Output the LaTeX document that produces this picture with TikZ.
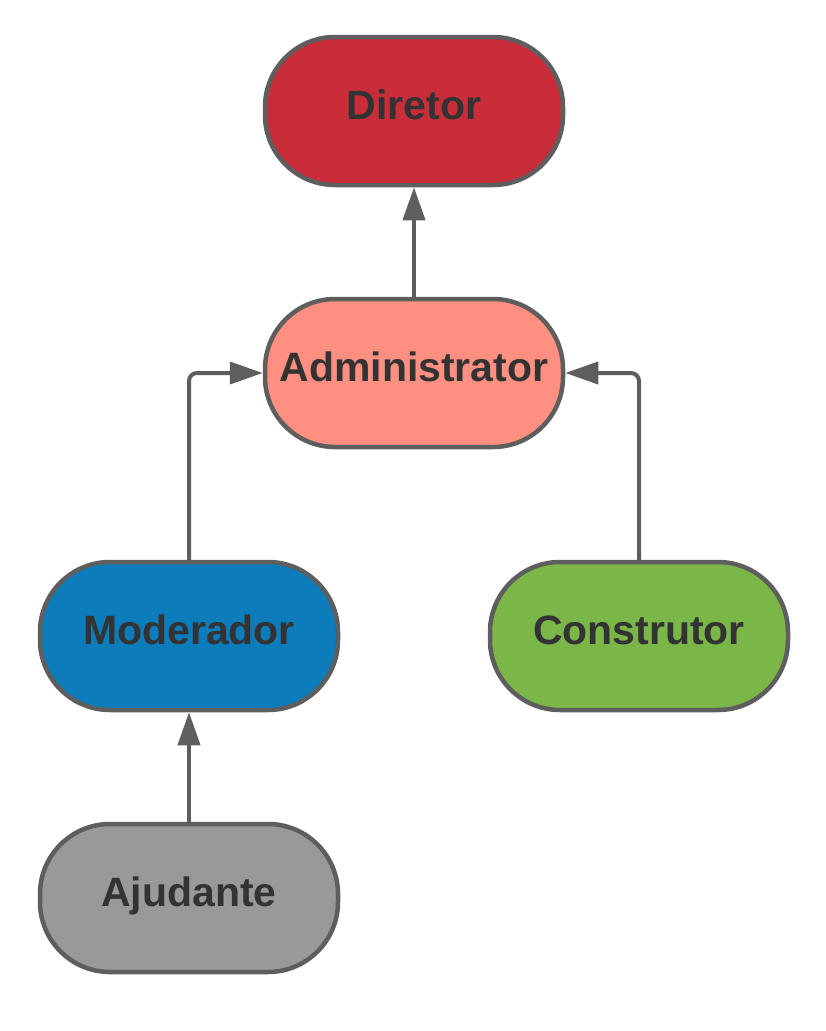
\documentclass[tikz,border=0pt]{standalone}
\usepackage{fontspec}
\setmainfont{Liberation Sans}
\usetikzlibrary{arrows.meta,positioning}
\definecolor{rolered}{HTML}{C92D39}
\definecolor{rolesalmon}{HTML}{FF8F80}
\definecolor{roleblue}{HTML}{0C7CBA}
\definecolor{rolegreen}{HTML}{7AB648}
\definecolor{rolegray}{HTML}{999999}
\definecolor{edgegray}{HTML}{5E5E5E}
\definecolor{textgray}{HTML}{333333}
\tikzset{
  rolebox/.style={draw=edgegray, line width=4.5pt, rounded corners=70pt,
    minimum width=298pt, minimum height=148pt, inner sep=0pt,
    text height=30pt, text depth=14pt,
    text=textgray, font=\fontsize{41}{49}\selectfont\bfseries},
  link/.style={draw=edgegray, line width=4pt, rounded corners=8pt,
    -{Triangle[length=33pt,width=22pt]}}
}
\begin{document}
\begin{tikzpicture}[x=1pt,y=-1pt]
\useasboundingbox (0,0) rectangle (825,1031);
\node[rolebox, fill=rolered] (diretor) at (414,111) {Diretor};
\node[rolebox, fill=rolesalmon] (admin) at (414,373) {Administrator};
\node[rolebox, fill=roleblue] (moder) at (189,636) {Moderador};
\node[rolebox, fill=rolegreen] (constr) at (639,636) {Construtor};
\node[rolebox, fill=rolegray] (ajud) at (189,898) {Ajudante};
\draw[link] (admin.north) -- (diretor.south);
\draw[link] (moder.north) |- (admin.west);
\draw[link] (constr.north) |- (admin.east);
\draw[link] (ajud.north) -- (moder.south);
\end{tikzpicture}
\end{document}
